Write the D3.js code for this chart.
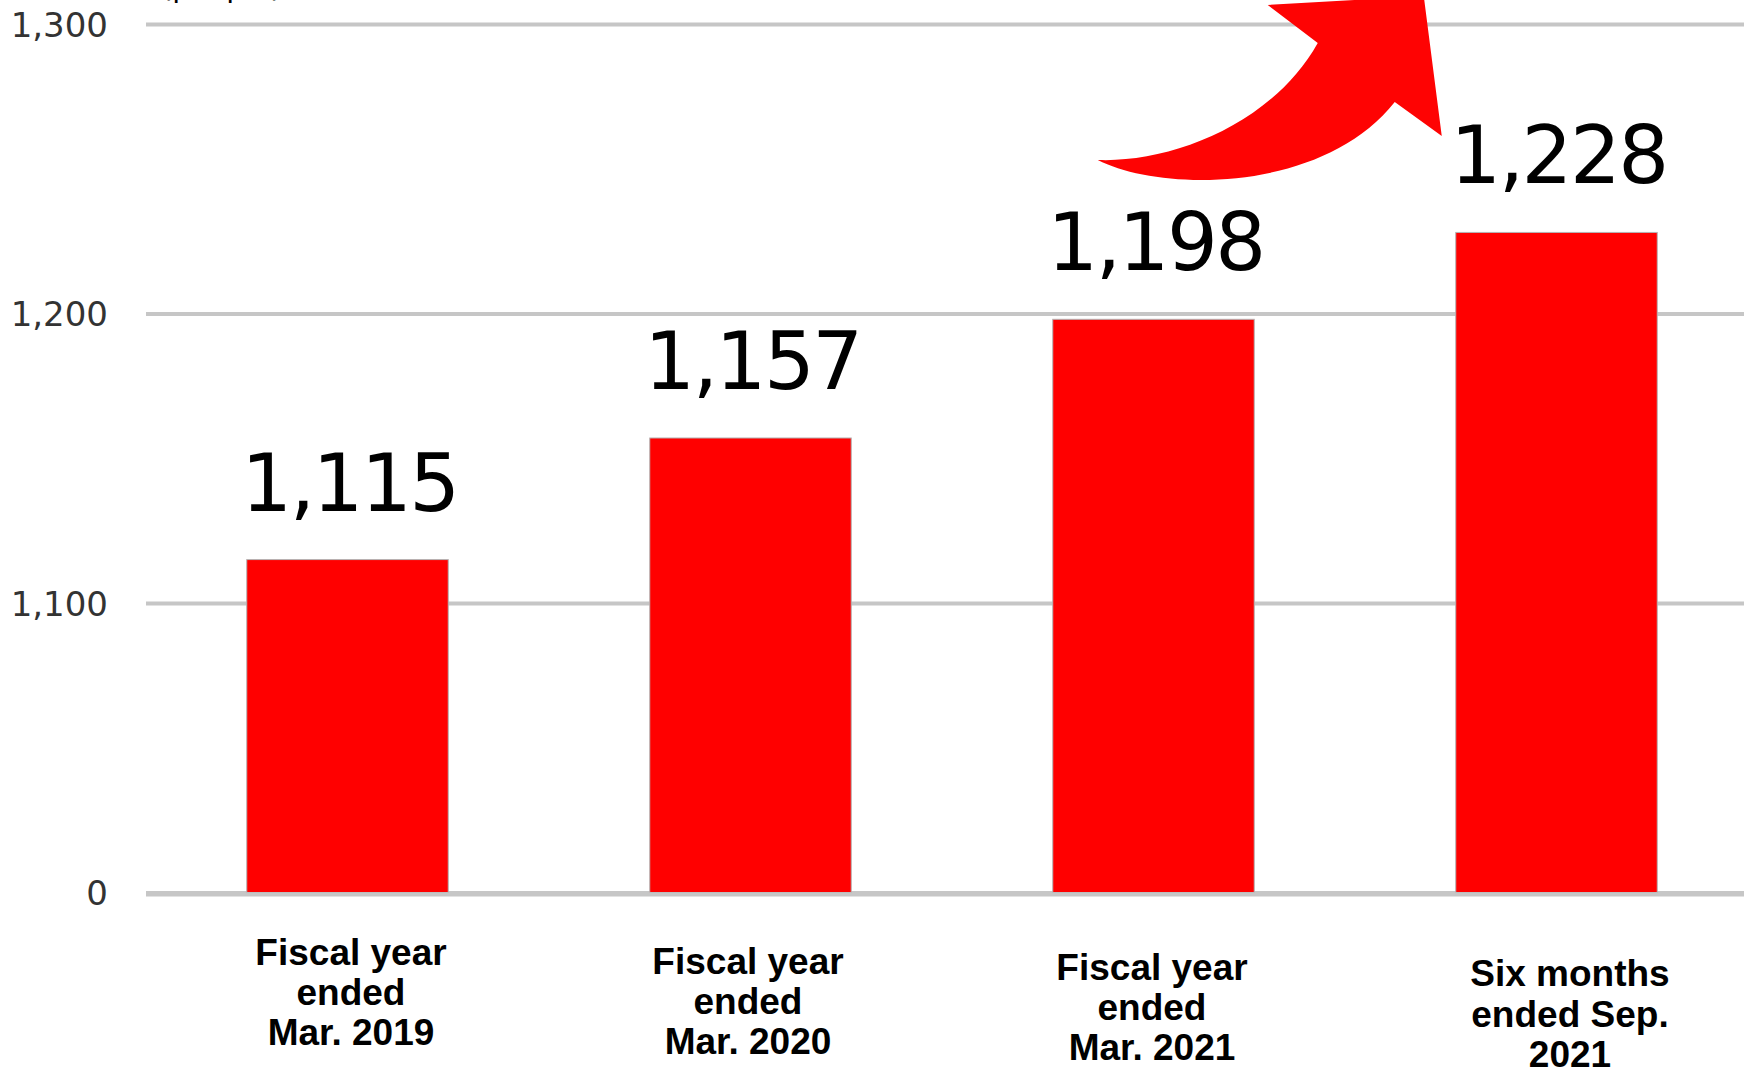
<!DOCTYPE html>
<html>
<head>
<meta charset="utf-8">
<script src="https://cdn.jsdelivr.net/npm/d3@7"></script>
<style>
  html, body { margin: 0; padding: 0; background: #ffffff; }
  svg { display: block; }
</style>
</head>
<body>
<svg id="chart" width="1744" height="1074"></svg>
<script>
// ---- data ----
const categories = ["FY2019", "FY2020", "FY2021", "H1FY2022"];
const categoryLabels = [
  ["Fiscal year", "ended", "Mar. 2019"],
  ["Fiscal year", "ended", "Mar. 2020"],
  ["Fiscal year", "ended", "Mar. 2021"],
  ["Six months", "ended Sep.", "2021"]
];
const employees = [1115, 1157, 1198, 1228];
const tickValues = [0, 1100, 1200, 1300];
const unitLabel = "(people)";

// ---- layout (not data) ----
const W = 1744, H = 1074;
const plotLeft = 146;
const labelLayout = [   // per-label nudges of the pasted category labels
  { dx: 3.5, y: 965, lh: 40 },
  { dx: -2.5, y: 974, lh: 40 },
  { dx: -1.5, y: 980, lh: 40 },
  { dx: 13.5, y: 986, lh: 40.5 }
];

const svg = d3.select("#chart");

const x = d3.scaleBand()
  .domain(categories)
  .range([plotLeft, 1758])
  .paddingInner(0.5)
  .paddingOuter(0.25);

// broken axis: 0 -> 1,100 compressed to one tick interval
const y = d3.scaleLinear()
  .domain([0, 1100, 1300])
  .range([892.5, 603, 24]);

const fmt = d3.format(",");

// gridlines + tick labels
const axis = d3.axisLeft(y)
  .tickValues(tickValues)
  .tickFormat(fmt)
  .tickSize(-(W - plotLeft))
  .tickSizeOuter(0)
  .tickPadding(38);

const gAxis = svg.append("g")
  .attr("transform", `translate(${plotLeft},0)`)
  .call(axis);
gAxis.select(".domain").remove();
gAxis.selectAll(".tick line")
  .attr("stroke", "#c6c6c6")
  .attr("stroke-width", 4);
gAxis.selectAll(".tick text")
  .attr("font-family", "'DejaVu Sans', Verdana, sans-serif")
  .attr("font-size", 34)
  .attr("fill", "#333333")
  .attr("dy", "0.36em");

// unit label (cut off at top)
svg.append("text")
  .attr("x", 161)
  .attr("y", -3)
  .attr("font-family", "'DejaVu Sans', Verdana, sans-serif")
  .attr("font-size", 29)
  .attr("fill", "#000")
  .text(unitLabel);

// bars
svg.append("g").selectAll("rect")
  .data(employees)
  .join("rect")
  .attr("x", (d, i) => x(categories[i]))
  .attr("y", d => y(d))
  .attr("width", x.bandwidth())
  .attr("height", d => y(0) - y(d))
  .attr("fill", "#ff0000")
  .attr("stroke", "#b4b4b4")
  .attr("stroke-width", 1);

// baseline drawn over the bar bottoms
svg.append("line")
  .attr("x1", plotLeft).attr("x2", W)
  .attr("y1", y(0) + 2).attr("y2", y(0) + 2)
  .attr("stroke", "#c6c6c6")
  .attr("stroke-width", 4);

// value labels
svg.append("g").selectAll("text")
  .data(employees)
  .join("text")
  .attr("x", (d, i) => x(categories[i]) + x.bandwidth() / 2 + 2)
  .attr("y", d => y(d) - 49)
  .attr("text-anchor", "middle")
  .attr("font-family", "'DejaVu Sans', Verdana, sans-serif")
  .attr("font-size", 80)
  .attr("letter-spacing", "-2.5px")
  .attr("fill", "#000")
  .text(d => fmt(d));

// category labels
const gCat = svg.append("g");
categoryLabels.forEach((lines, i) => {
  const L = labelLayout[i];
  const cx = x(categories[i]) + x.bandwidth() / 2 + L.dx;
  const t = gCat.append("text")
    .attr("text-anchor", "middle")
    .attr("font-family", "'Liberation Sans', Arial, sans-serif")
    .attr("font-weight", "bold")
    .attr("font-size", 37)
    .attr("fill", "#000");
  lines.forEach((ln, j) => {
    t.append("tspan")
      .attr("x", cx)
      .attr("y", L.y + j * L.lh)
      .text(ln);
  });
});

// curved growth arrow, anchored to the last bar and the top gridline
const ax = x(categories[3]);   // ~1456
const ay = y(1300);             // ~24
const P = (px, py) => [px - 1456 + ax, py - 24 + ay];
const pts = {
  T: P(1098, 160),
  L1: P(1160, 192), L2: P(1322, 194), N2: P(1395, 102),
  RB: P(1442, 136), TIP: P(1424, -4), LB: P(1268, 5), N1: P(1318, 43),
  U2: P(1272, 125), U1: P(1170, 163)
};
const p = d3.path();
p.moveTo(...pts.T);
p.bezierCurveTo(...pts.L1, ...pts.L2, ...pts.N2);
p.lineTo(...pts.RB);
p.lineTo(...pts.TIP);
p.lineTo(...pts.LB);
p.lineTo(...pts.N1);
p.bezierCurveTo(...pts.U2, ...pts.U1, ...pts.T);
p.closePath();
svg.append("path")
  .attr("d", p.toString())
  .attr("fill", "#fe0303");
</script>
</body>
</html>
